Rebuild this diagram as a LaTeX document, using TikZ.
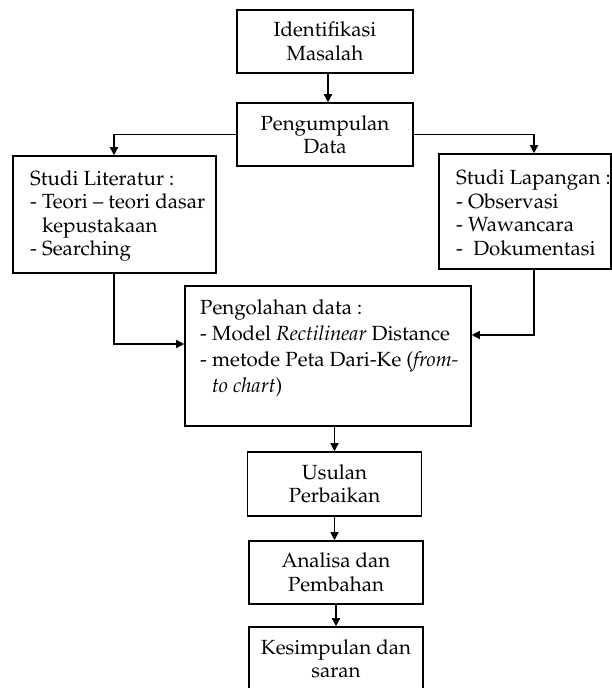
\documentclass[tikz,border=0pt]{standalone}
\usepackage[T1]{fontenc}
\usepackage{mathpazo}
\usetikzlibrary{arrows.meta}
\newcommand{\diafs}{\fontsize{20.5}{23.5}\selectfont}
\newcommand{\diafsb}{\fontsize{20.5}{26}\selectfont}
\begin{document}
\begin{tikzpicture}[x=1pt,y=-1pt,
  box/.style={draw, line width=1.6pt, inner sep=0pt, font=\diafs, align=center},
  lbl/.style={inner sep=0pt, font=\diafs, align=left, anchor=west},
  arr/.style={line width=1.5pt, -{Triangle[length=8pt,width=8pt]}}]
\useasboundingbox (0,0) rectangle (612,688);
\fill[white] (0,0) rectangle (612,688);
% boxes
\node[box, minimum width=176pt, minimum height=63pt] (idm) at (325,41.5) {Identifikasi\\Masalah};
\node[box, minimum width=176pt, minimum height=63pt] (pd) at (325,134.5) {Pengumpulan\\Data};
\node[box, minimum width=203pt, minimum height=117pt] (lit) at (114.5,214.5) {};
\node[lbl] (littx) at (30,216) {Studi Literatur :\\- Teori -- teori dasar\\\hspace*{0.58em}kepustakaan\\- Searching};
\node[box, minimum width=172pt, minimum height=115pt] (lap) at (525,211.5) {};
\node[lbl] (laptx) at (456,213) {Studi Lapangan :\\- Observasi\\- Wawancara\\-\ \ Dokumentasi};
\node[box, minimum width=286pt, minimum height=140pt] (pol) at (328,356) {};
\node[lbl, font=\diafsb] (poltx) at (200,348) {Pengolahan data :\\- Model \textit{Rectilinear} Distance\\- metode Peta Dari-Ke (\textit{from-}\\\hspace*{0.58em}\textit{to chart})};
\node[box, minimum width=174pt, minimum height=64pt] (us) at (334.5,484) {Usulan\\Perbaikan};
\node[box, minimum width=174pt, minimum height=63pt] (an) at (336,572.5) {Analisa dan\\Pembahan};
\node[box, minimum width=174pt, minimum height=64pt] (ks) at (336,659) {Kesimpulan dan\\saran};
% connectors
\draw[arr] ([xshift=3pt]idm.south) -- ([xshift=3pt]pd.north);
\draw[arr] (pd.west) -| ([xshift=-0.5pt]lit.north);
\draw[arr] (pd.east) -| ([xshift=9pt]lap.north);
\draw[arr] ([xshift=-0.5pt]lit.south) |- ([yshift=12pt]pol.west);
\draw[arr] ([xshift=9pt]lap.south) |- ([yshift=21pt]pol.east);
\draw[arr] (us.north |- pol.south) -- (us);
\draw[arr] (us.south) -- (us.south |- an.north);
\draw[arr] (an) -- (ks);
\end{tikzpicture}
\end{document}
